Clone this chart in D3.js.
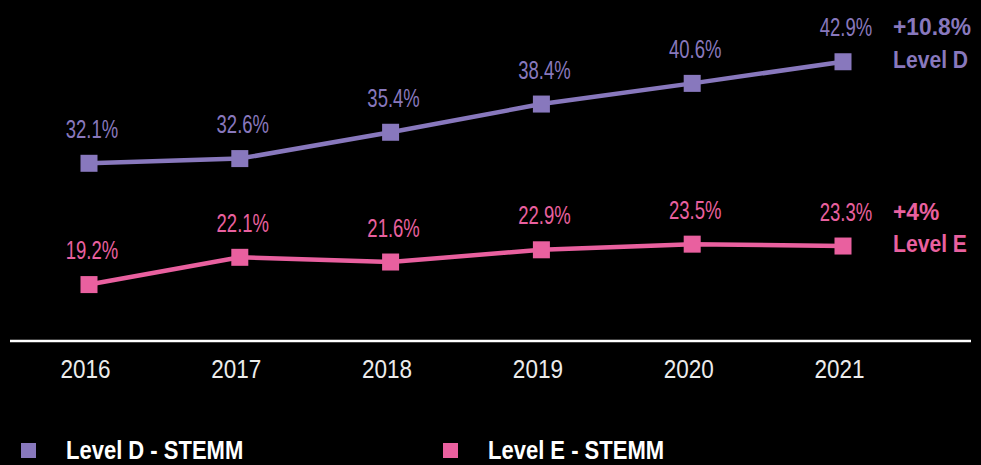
<!DOCTYPE html>
<html>
<head>
<meta charset="utf-8">
<script src="https://cdn.jsdelivr.net/npm/d3@7"></script>
<style>
  body { margin: 0; background: #000; }
  svg { display: block; }
  text { font-family: "Liberation Sans", Arial, sans-serif; }
</style>
</head>
<body>
<div id="chart"></div>
<script>
// chart data
var years = ["2016", "2017", "2018", "2019", "2020", "2021"];
var levelD = [32.1, 32.6, 35.4, 38.4, 40.6, 42.9];
var levelE = [19.2, 22.1, 21.6, 22.9, 23.5, 23.3];
var seriesNames = ["Level D - STEMM", "Level E - STEMM"];
var changeLabels = ["+10.8%", "+4%"];
var endLabels = ["Level D", "Level E"];
var colors = ["#8878bd", "#e9609f"];

var width = 981, height = 465;

// squeeze text horizontally to mimic a condensed face
function condense(sel, k) {
  sel.each(function() {
    var w = this.getComputedTextLength();
    d3.select(this)
      .attr("textLength", w * k)
      .attr("lengthAdjust", "spacingAndGlyphs");
  });
}

var svg = d3.select("#chart")
  .append("svg")
    .attr("width", width)
    .attr("height", height);

// scales
var x = d3.scalePoint()
  .domain(years)
  .range([89, 843]);

var y = d3.scaleLinear()
  .domain([13.2, 45])
  .range([341, 42]);

// baseline
svg.append("line")
  .attr("x1", 10)
  .attr("x2", 971)
  .attr("y1", y(13.2))
  .attr("y2", y(13.2))
  .attr("stroke", "#fff")
  .attr("stroke-width", 2.5);

// x axis labels
var xAxis = svg.append("g")
  .attr("transform", "translate(-4,360)")
  .call(d3.axisBottom(x).tickSize(0).tickPadding(0));
xAxis.select(".domain").remove();
xAxis.selectAll("text")
  .attr("dy", "0.71em")
  .style("font-family", "Liberation Sans")
  .style("font-size", "25px")
  .attr("fill", "#ececec")
  .call(condense, 0.9);

var series = [levelD, levelE];

var line = d3.line()
  .x(function(d, i) { return x(years[i]); })
  .y(function(d) { return y(d); });

series.forEach(function(vals, s) {
  var g = svg.append("g");

  g.append("path")
    .datum(vals)
    .attr("fill", "none")
    .attr("stroke", colors[s])
    .attr("stroke-width", 4.5)
    .attr("d", line);

  g.selectAll("rect")
    .data(vals)
    .enter().append("rect")
      .attr("x", function(d, i) { return x(years[i]) - 8.5; })
      .attr("y", function(d) { return y(d) - 8.5; })
      .attr("width", 17)
      .attr("height", 17)
      .attr("fill", colors[s]);

  g.selectAll(".val")
    .data(vals)
    .enter().append("text")
      .attr("class", "val")
      .attr("x", function(d, i) { return x(years[i]) + 3; })
      .attr("y", function(d) { return y(d) - 25.5; })
      .attr("text-anchor", "middle")
      .attr("fill", colors[s])
      .style("font-size", "25px")
      .text(function(d) { return d.toFixed(1) + "%"; })
      .call(condense, 0.74);

  // change + name at the right end
  var last = vals[vals.length - 1];
  g.append("text")
    .attr("x", 893)
    .attr("y", y(last) - 26.5)
    .attr("fill", colors[s])
    .style("font-size", "24px")
    .style("font-weight", "bold")
    .text(changeLabels[s])
    .call(condense, 0.95);
  g.append("text")
    .attr("x", 893)
    .attr("y", y(last) + 6)
    .attr("fill", colors[s])
    .style("font-size", "24px")
    .style("font-weight", "bold")
    .text(endLabels[s])
    .call(condense, 0.88);
});

// legend
var legendX = [21, 443];
seriesNames.forEach(function(name, i) {
  svg.append("rect")
    .attr("x", legendX[i])
    .attr("y", 443)
    .attr("width", 15)
    .attr("height", 15)
    .attr("fill", colors[i]);
  svg.append("text")
    .attr("x", legendX[i] + 45)
    .attr("y", 459)
    .attr("fill", "#fff")
    .style("font-size", "25px")
    .style("font-weight", "bold")
    .text(name)
    .call(condense, 0.88);
});
</script>
</body>
</html>
